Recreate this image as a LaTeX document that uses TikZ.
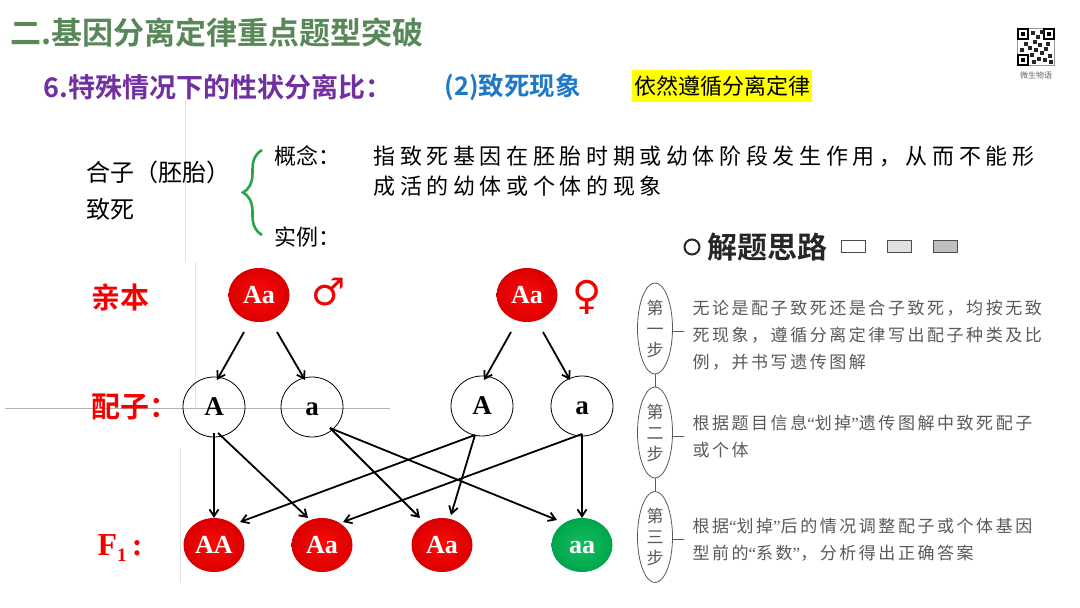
\documentclass[tikz,border=0pt]{standalone}
\usepackage{fontspec}
\setmainfont{Liberation Serif}
\newfontfamily\cjk{Noto Sans CJK SC}[BoldFont={Noto Sans CJK SC Bold}]
\newfontfamily\cjkdef{Noto Sans CJK SC}[LetterSpace=21]
\newfontfamily\cjkstep{Noto Sans CJK SC}[LetterSpace=15]
\newfontfamily\symf{DejaVu Sans}
\newcommand{\myLq}{{\rmfamily“}}
\newcommand{\myRq}{{\rmfamily”}}
\usetikzlibrary{arrows.meta,decorations.pathreplacing,shapes.geometric,calc}
\definecolor{titlegreen}{RGB}{88,135,88}
\definecolor{subpurple}{RGB}{112,48,160}
\definecolor{subblue}{RGB}{30,120,200}
\definecolor{hiyellow}{RGB}{255,255,0}
\definecolor{bracegreen}{RGB}{40,165,70}
\definecolor{lblred}{RGB}{245,0,0}
\definecolor{balllight}{RGB}{255,10,10}
\definecolor{balldark}{RGB}{218,0,0}
\definecolor{greenlight}{RGB}{20,190,95}
\definecolor{greendark}{RGB}{0,165,75}
\definecolor{stepgray}{RGB}{90,90,90}
\definecolor{faint}{RGB}{225,225,225}
\begin{document}
\begin{tikzpicture}[x=1pt,y=-1pt,
  redball/.style={ellipse, minimum width=61pt, minimum height=54pt, inner sep=0pt,
    shading=radial, inner color=balllight, outer color=balldark, text=white,
    text height=17pt, text depth=0pt,
    font={\bfseries\fontsize{26}{26}\selectfont}},
  greenball/.style={redball, inner color=greenlight, outer color=greendark},
  gamete/.style={ellipse, draw=black, line width=0.8pt, minimum width=62pt, minimum height=60pt,
    inner sep=0pt, text height=17.5pt, text depth=0pt, font={\bfseries\fontsize{27}{27}\selectfont}},
  arr/.style={-{Straight Barb[length=7pt,width=9pt]}, line width=1.8pt, black},
  rowlbl/.style={anchor=west, text=lblred, font={\cjk\bfseries\fontsize{29}{32}\selectfont}},
  stepell/.style={ellipse, draw=stepgray, line width=0.8pt, minimum width=35pt, minimum height=91pt,
    inner sep=0pt, align=center, text=stepgray, font={\cjk\fontsize{17}{21}\selectfont}},
  steptext/.style={anchor=west, align=left, text=stepgray, font={\cjkstep\fontsize{17}{27}\selectfont}},
  stepline/.style={draw=stepgray, line width=0.8pt},
  bodytext/.style={anchor=west, align=left, text=black, font={\cjk\fontsize{24}{37}\selectfont}},
  legendbox/.style={draw=black!70, line width=1pt, minimum width=24pt, minimum height=12pt, inner sep=0pt}
]
\useasboundingbox[fill=white] (0,0) rectangle (1080,608);

% faint background lines
\draw[faint, line width=0.8pt] (185,100) -- (185,262);
\draw[faint, line width=0.8pt] (195,262) -- (195,410);
\draw[faint, line width=0.8pt] (180,448) -- (180,582);
\draw[black!30, line width=0.8pt] (5,408) -- (390,408);

% titles
\node[anchor=west, text=titlegreen, font={\cjk\bfseries\fontsize{31}{37}\selectfont}] (title) at (7,33) {二.基因分离定律重点题型突破};
\node[anchor=west, text=subpurple, font={\cjk\bfseries\fontsize{27}{31}\selectfont}] (sub) at (40,87) {6.特殊情况下的性状分离比：};
\node[anchor=west, text=subblue, font={\cjk\bfseries\fontsize{25.5}{30}\selectfont}] (lethal) at (441,87) {(2)致死现象};
\node[fill=hiyellow, minimum width=180pt, minimum height=32pt, inner sep=0pt, text=black,
  font={\cjk\fontsize{22}{26}\selectfont}] (rule) at (722,86) {依然遵循分离定律};

% QR code
\node[draw=black!40, fill=white, minimum width=37pt, minimum height=37pt, inner sep=0pt] (qr) at (1036,47) {};
\foreach \dx/\dy in {-13/-13, 13/-13, -13/13}{
  \draw[black, line width=2pt] ($(qr)+(\dx-5,\dy-5)$) rectangle ($(qr)+(\dx+5,\dy+5)$);
  \fill[black] ($(qr)+(\dx-2,\dy-2)$) rectangle ($(qr)+(\dx+2,\dy+2)$);
}
\foreach \dx/\dy in {-3/-14, 2/-10, -1/-5, 4/-2, -6/1, 0/3, 6/6, 10/2, 14/9, 9/13, 3/12, -4/8, 12/-3, -10/-3, -14/3, 6/-15, 15/15, -2/15}{
  \fill[black!85] ($(qr)+(\dx-1.8,\dy-1.8)$) rectangle ($(qr)+(\dx+1.8,\dy+1.8)$);
}
\node[text=black!60, font={\cjk\fontsize{8}{9}\selectfont}] (qrlbl) at (1036,75) {微生物语};

% concept block
\node[bodytext] (zyg) at (83,191) {合子（胚胎）\\致死};
\node[anchor=west, font={\cjk\fontsize{22}{26}\selectfont}] (concept) at (271,156) {概念：};
\node[anchor=west, font={\cjk\fontsize{22}{26}\selectfont}] (example) at (271,237) {实例：};
\coordinate (brtop) at (262,150);
\coordinate (brbot) at (262,235);
\draw[bracegreen, line width=2.6pt, decorate, decoration={brace, amplitude=19pt}] (brbot) -- (brtop);
\node[anchor=west, align=left, font={\cjkdef\fontsize{22}{30}\selectfont}] (def) at (370,171)
  {指致死基因在胚胎时期或幼体阶段发生作用，从而不能形\\成活的幼体或个体的现象};

% solution approach
\node[circle, draw=black!85, line width=2pt, minimum size=15pt, inner sep=0pt] (dot) at (692,247) {};
\node[anchor=west, text=black!85, font={\cjk\bfseries\fontsize{30}{34}\selectfont}] (approach) at (704,247) {解题思路};
\node[legendbox, fill=white] (lg1) at (853,246) {};
\node[legendbox, fill=black!12] (lg2) at (899,246) {};
\node[legendbox, fill=black!25] (lg3) at (945,246) {};

\node[stepell] (s1) at (655,328.5) {第\\一\\步};
\node[stepell] (s2) at (655,432.5) {第\\二\\步};
\node[stepell] (s3) at (655,537) {第\\三\\步};
\draw[stepline] (s1.south) -- (s2.north);
\draw[stepline] (s2.south) -- (s3.north);
\coordinate (t1) at (684,331);
\coordinate (t2) at (684,436);
\coordinate (t3) at (684,539);
\draw[stepline] (s1.east |- t1) -- (t1);
\draw[stepline] (s2.east |- t2) -- (t2);
\draw[stepline] (s3.east |- t3) -- (t3);
\node[steptext] (st1) at (689,335.5) {无论是配子致死还是合子致死，均按无致\\死现象，遵循分离定律写出配子种类及比\\例，并书写遗传图解};
\node[steptext] (st2) at (689,436.5) {根据题目信息\myLq 划掉\myRq 遗传图解中致死配子\\或个体};
\node[steptext] (st3) at (689,539.5) {根据\myLq 划掉\myRq 后的情况调整配子或个体基因\\型前的\myLq 系数\myRq ，分析得出正确答案};

% genetics diagram
\node[rowlbl] (plbl) at (88,297) {亲本};
\node[rowlbl] (glbl) at (88,407) {配子：};
\node[anchor=west, text=lblred, font={\bfseries\fontsize{32}{34}\selectfont}] (flbl) at (94,548)
  {F\raisebox{-6pt}{\fontsize{19}{19}\selectfont 1}\,:};

\node[redball] (P1) at (259,295) {Aa};
\node[redball] (P2) at (527,295) {Aa};
\node[text=lblred, font={\symf\fontsize{38}{40}\selectfont}] (male) at (329,292) {♂};
\node[text=lblred, font={\symf\fontsize{40}{42}\selectfont}] (female) at (587,297) {♀};

\node[gamete] (g1) at (214,407) {A};
\node[gamete] (g2) at (312,407) {a};
\node[gamete] (g3) at (482,406) {A};
\node[gamete] (g4) at (582,406) {a};

\node[redball] (f1) at (214,545) {AA};
\node[redball] (f2) at (322,545) {Aa};
\node[redball] (f3) at (442,545) {Aa};
\node[greenball] (f4) at (582,545) {aa};

\draw[arr] ($(P1)+(-15,37)$) -- ($(g1)+(3,-27)$);
\draw[arr] ($(P1)+(18,37)$) -- ($(g2)+(-7,-27)$);
\draw[arr] ($(P2)+(-16,37)$) -- ($(g3)+(2,-26)$);
\draw[arr] ($(P2)+(16,37)$) -- ($(g4)+(-12,-26)$);

\draw[arr] ($(g1)+(0,26)$) -- ($(f1)+(0,-27)$);
\draw[arr] ($(g1)+(4,26)$) -- ($(f2)+(-14,-27)$);
\draw[arr] ($(g2)+(18,21)$) -- ($(f3)+(-22,-27)$);
\draw[arr] ($(g2)+(18,21)$) -- ($(f4)+(-25,-25)$);
\draw[arr] ($(g3)+(-7,29)$) -- ($(f1)+(26,-23)$);
\draw[arr] ($(g3)+(-7,29)$) -- ($(f3)+(9,-30)$);
\draw[arr] ($(g4)+(0,28)$) -- ($(f2)+(21,-23)$);
\draw[arr] ($(g4)+(0,28)$) -- ($(f4)+(0,-27)$);
\end{tikzpicture}
\end{document}
